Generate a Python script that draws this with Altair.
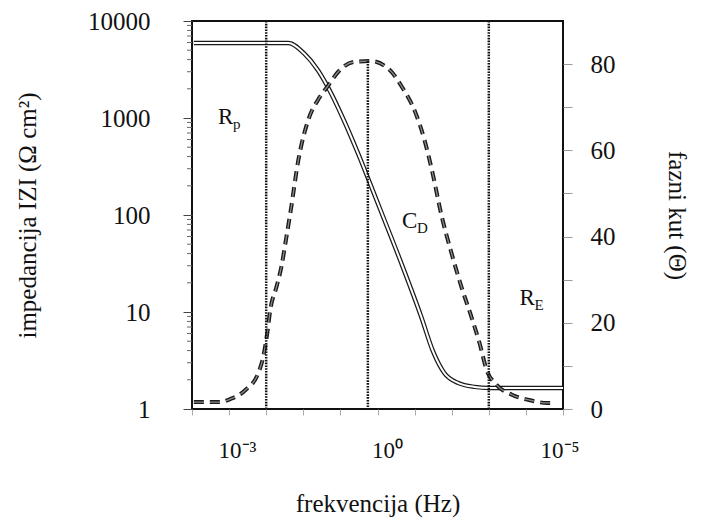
import altair as alt
import pandas as pd

# ---- data (x = decade index along the frequency axis) ----
imp_u = [0.05, 2.60, 3.01, 3.39, 3.66, 4.09, 4.47, 4.74, 5.09, 5.64, 6.18, 6.50, 6.80, 7.18, 7.62, 8.00, 10.0]
imp_z = [5930, 5930, 4680, 3125, 2090, 953, 436, 241, 110, 32, 8.9, 3.9, 2.35, 1.85, 1.69, 1.65, 1.65]

ph_u = [0.05, 0.76, 1.03, 1.44, 1.79, 1.92, 2.03, 2.11, 2.28, 2.41, 2.52, 2.66, 2.87, 3.14, 3.41,
        3.66, 3.96, 4.36, 4.82, 5.31, 5.66, 6.02, 6.26, 6.48, 6.72, 6.99, 7.26, 7.53, 7.75, 7.94,
        8.21, 8.62, 9.08, 9.57, 9.70]
ph_deg = [1.6, 1.6, 2.3, 4.4, 8.4, 12.1, 17.7, 23.0, 28.4, 33.0, 38.6, 46.0, 57.9, 67.2, 71.9,
          74.9, 78.4, 80.5, 80.7, 78.8, 74.7, 68.8, 62.6, 54.9, 45.1, 36.3, 28.4, 21.4, 15.3, 9.1,
          5.6, 3.3, 2.1, 1.4, 1.4]

vline_u = [2.0, 4.74, 8.0]
vline_top = [90, 80.7, 90]
vline_bottom = [0, 0, 0]

ann_main = ["R", "C", "R"]
ann_sub = ["p", "D", "E"]
ann_u = [0.70, 5.66, 8.83]
ann_deg = [66.0, 42.1, 24.2]

x_ticks = list(range(0, 11))
x_label_pos = [1, 5, 10]
x_label_txt = ["10\u207b\u00b3", "10\u2070", "10\u207b\u2075"]

z_major = [1, 10, 100, 1000, 10000]
z_minor = [m * d for d in [1, 10, 100, 1000] for m in range(2, 10)]
ph_ticks = list(range(0, 90, 10))

FONT = "Liberation Serif"

imp_df = pd.DataFrame({"u": imp_u, "Z": imp_z})
ph_df = pd.DataFrame({"u": ph_u, "phase": ph_deg})
vl_df = pd.DataFrame({"u": vline_u, "phase": vline_top, "phase_end": vline_bottom})
ann_df = pd.DataFrame({"u": ann_u, "phase": ann_deg, "main": ann_main, "sub": ann_sub})
minor_df = pd.DataFrame({"Z": z_minor})

label_expr = " : ".join(
    [f"datum.value == {p} ? '{t}'" for p, t in zip(x_label_pos, x_label_txt)]
) + " : ''"

x_enc = alt.X(
    "u:Q",
    scale=alt.Scale(domain=[0, 10], nice=False, zero=False),
    axis=alt.Axis(
        values=x_ticks, labelExpr=label_expr, title="frekvencija (Hz)", grid=False, domain=False,
        tickSize=6, tickColor="#aaaaaa", tickWidth=1,
        labelFont=FONT, labelFontSize=23, labelColor="#111", labelPadding=24,
        labelAlign="left",
        labelOffset={"condition": [{"test": "datum.value == 5", "value": -6},
                                   {"test": "datum.value == 10", "value": -23}], "value": -11},
        titleFont=FONT, titleFontSize=25, titleFontWeight="normal", titleColor="#111",
        titlePadding=29,
    ),
)

y_imp = alt.Y(
    "Z:Q",
    scale=alt.Scale(type="log", domain=[1, 10000], nice=False),
    axis=alt.Axis(
        values=z_major, labelExpr="format(datum.value, 'd')", orient="left",
        title="impedancija IZI (\u03a9 cm\u00b2)", grid=False, domain=False,
        tickSize=9, tickColor="#444", tickWidth=1,
        labelFont=FONT, labelFontSize=25, labelColor="#111", labelPadding=33,
        titleFont=FONT, titleFontSize=25, titleFontWeight="normal", titleColor="#111",
        titlePadding=47,
    ),
)

y_ph = alt.Y(
    "phase:Q",
    scale=alt.Scale(domain=[0, 90], nice=False, zero=True),
    axis=alt.Axis(
        values=ph_ticks, labelExpr="datum.value % 20 == 0 ? datum.label : ''", orient="right",
        title="fazni kut (\u0398)", grid=False, domain=False,
        tickSize=9, tickColor="#999", tickWidth=1,
        labelFont=FONT, labelFontSize=25, labelColor="#111", labelPadding=18,
        titleFont=FONT, titleFontSize=25, titleFontWeight="normal", titleColor="#111",
        titlePadding=48,
    ),
)

imp_outer = alt.Chart(imp_df).mark_line(color="#1a1a1a", strokeWidth=4.5, interpolate="monotone").encode(x=x_enc, y=y_imp)
imp_inner = alt.Chart(imp_df).mark_line(color="white", strokeWidth=2, interpolate="monotone").encode(x=x_enc, y=y_imp)
minor = alt.Chart(minor_df).mark_rule(color="#666", strokeWidth=1).encode(
    x=alt.value(-5), x2=alt.value(0), y=y_imp
)
imp_layer = alt.layer(imp_outer, imp_inner, minor)

ph_outer = alt.Chart(ph_df).mark_line(color="#1a1a1a", strokeWidth=4, strokeDash=[10, 6], interpolate="monotone").encode(x=x_enc, y=y_ph)
ph_inner = alt.Chart(ph_df).mark_line(color="#8a8a8a", strokeWidth=1.3, strokeDash=[10, 6], interpolate="monotone").encode(x=x_enc, y=y_ph)
vlines = alt.Chart(vl_df).mark_rule(color="#111", strokeWidth=2.5, strokeDash=[1.6, 1.2]).encode(
    x=x_enc, y=y_ph, y2="phase_end:Q"
)
txt_main = alt.Chart(ann_df).mark_text(font=FONT, fontSize=23, align="left", baseline="alphabetic", color="#111").encode(
    x=x_enc, y=y_ph, text="main:N"
)
txt_sub = alt.Chart(ann_df).mark_text(font=FONT, fontSize=15, align="left", baseline="alphabetic", dx=15, dy=5, color="#111").encode(
    x=x_enc, y=y_ph, text="sub:N"
)
ph_layer = alt.layer(ph_outer, ph_inner, vlines, txt_main, txt_sub)

chart = (
    alt.layer(imp_layer, ph_layer)
    .resolve_scale(y="independent")
    .properties(
        width=371, height=388,
        padding={"left": 184, "top": 13, "right": 131, "bottom": 109},
        autosize=alt.AutoSizeParams(type="none"),
        background="white",
    )
    .configure_view(stroke="#111", strokeWidth=2)
)

chart.save("out.html", embed_options={"renderer": "svg", "actions": False})
